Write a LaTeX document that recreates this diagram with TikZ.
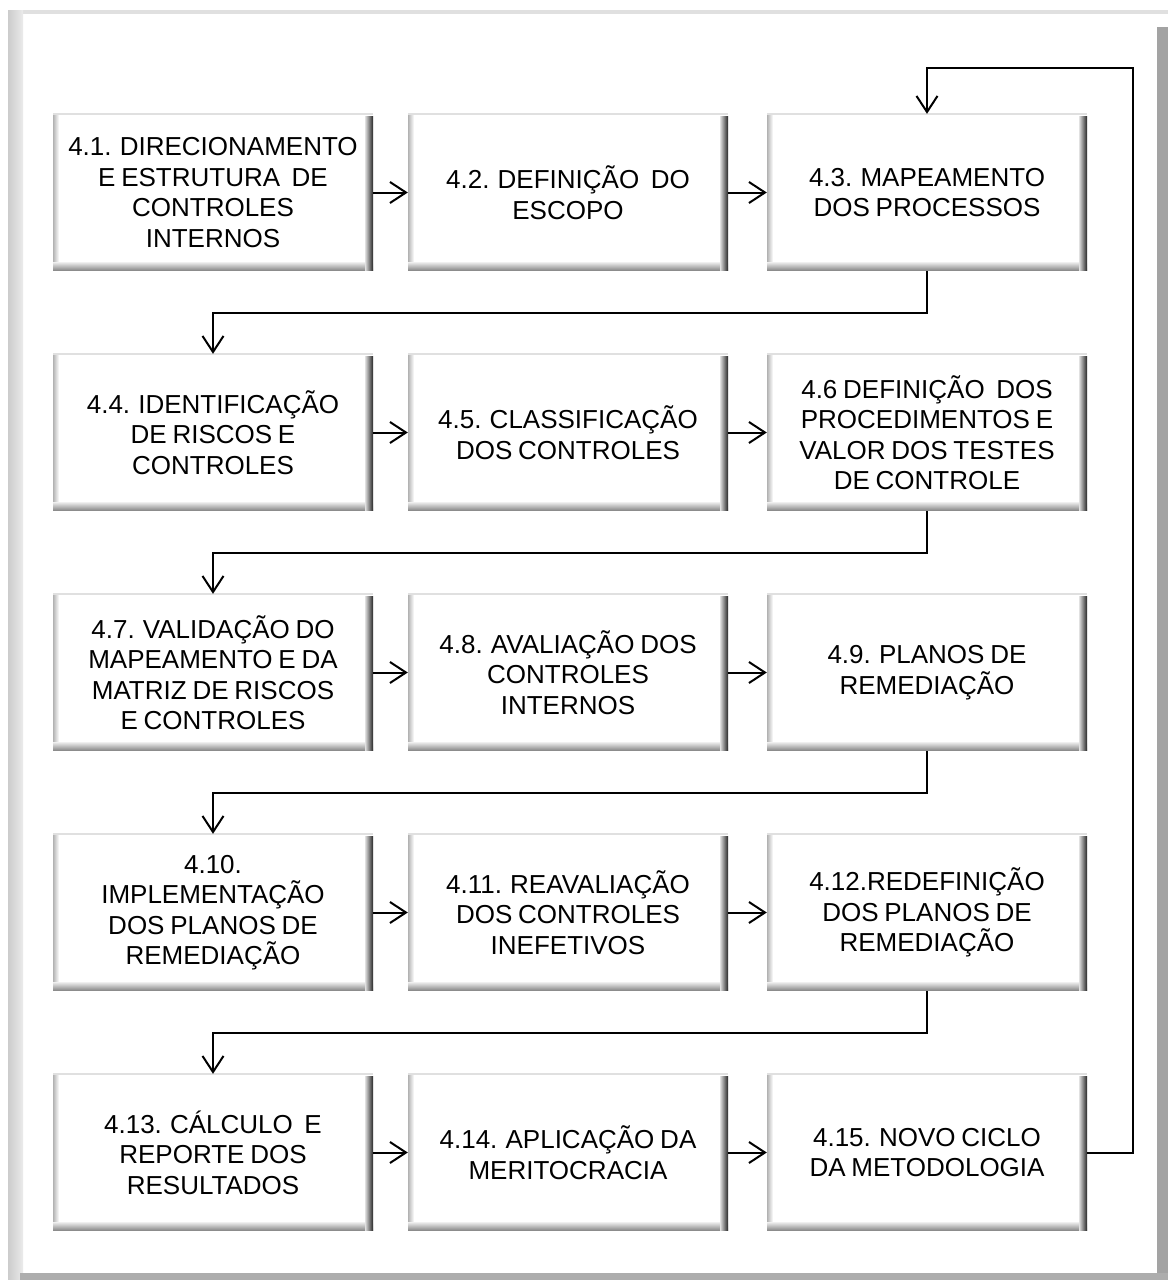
\documentclass[tikz,border=0pt]{standalone}
\usepackage{fontspec}
\setmainfont{Liberation Sans}[WordSpace=0.8]
\usetikzlibrary{arrows.meta}
\tikzset{
  boxtext/.style={rectangle, minimum width=320pt, minimum height=157pt, inner sep=0pt,
    align=center, font=\fontsize{26}{30.5}\selectfont},
  arr/.style={line width=2pt, -{Straight Barb[length=16pt,width=21pt,line width=2pt]}},
}
\newcommand\bevbox[4]{%
  \fill[white] (#2,#3) rectangle (#2+320,#3+157);
  \shade[left color=black!30,right color=white] (#2,#3) rectangle (#2+6,#3+157);
  \fill[black!12] (#2,#3) rectangle (#2+320,#3+2);
  \shade[top color=black!6,bottom color=black!45] (#2,#3+149) rectangle (#2+320,#3+157);
  \shade[left color=black!12,right color=black!85] (#2+312,#3+3) rectangle (#2+320,#3+157);
  \node[boxtext] (#1) at (#2+160,#3+79.5) {#4};
}
\begin{document}
\begin{tikzpicture}[x=1pt,y=-1pt]
\useasboundingbox (0,0) rectangle (1168,1280);
\fill[white] (0,0) rectangle (1168,1280);
% outer frame
\fill[black!12] (8,10) rectangle (1168,14);
\shade[left color=black!20,right color=black!8] (8,10) rectangle (23,1280);
\fill[black!36] (1157,27) rectangle (1168,1280);
\fill[black!32] (20,1273) rectangle (1168,1280);
% boxes
\bevbox{b1}{53}{113}{4.1. DIRECIONAMENTO\\E ESTRUTURA\ \ DE\\CONTROLES\\INTERNOS}
\bevbox{b2}{408}{113}{4.2. DEFINIÇÃO\ \ DO\\ESCOPO}
\bevbox{b3}{767}{113}{4.3. MAPEAMENTO\\DOS PROCESSOS}
\bevbox{b4}{53}{353}{4.4. IDENTIFICAÇÃO\\DE RISCOS E\\CONTROLES}
\bevbox{b5}{408}{353}{4.5. CLASSIFICAÇÃO\\DOS CONTROLES}
\bevbox{b6}{767}{353}{4.6 DEFINIÇÃO\ \ DOS\\PROCEDIMENTOS E\\VALOR DOS TESTES\\DE CONTROLE}
\bevbox{b7}{53}{593}{4.7. VALIDAÇÃO DO\\MAPEAMENTO E DA\\MATRIZ DE RISCOS\\E CONTROLES}
\bevbox{b8}{408}{593}{4.8. AVALIAÇÃO DOS\\CONTROLES\\INTERNOS}
\bevbox{b9}{767}{593}{4.9. PLANOS DE\\REMEDIAÇÃO}
\bevbox{b10}{53}{833}{4.10.\\IMPLEMENTAÇÃO\\DOS PLANOS DE\\REMEDIAÇÃO}
\bevbox{b11}{408}{833}{4.11. REAVALIAÇÃO\\DOS CONTROLES\\INEFETIVOS}
\bevbox{b12}{767}{833}{4.12.REDEFINIÇÃO\\DOS PLANOS DE\\REMEDIAÇÃO}
\bevbox{b13}{53}{1073}{4.13. CÁLCULO\ \ E\\REPORTE DOS\\RESULTADOS}
\bevbox{b14}{408}{1073}{4.14. APLICAÇÃO DA\\MERITOCRACIA}
\bevbox{b15}{767}{1073}{4.15. NOVO CICLO\\DA METODOLOGIA}
% horizontal arrows
\foreach \a/\b in {b1/b2,b2/b3,b4/b5,b5/b6,b7/b8,b8/b9,b10/b11,b11/b12,b13/b14,b14/b15}
  \draw[arr] (\a.east) -- (\b.west);
% row connectors
\draw[arr] (b3.south) -- ++(0,41.5) -| (b4.north);
\draw[arr] (b6.south) -- ++(0,41.5) -| (b7.north);
\draw[arr] (b9.south) -- ++(0,41.5) -| (b10.north);
\draw[arr] (b12.south) -- ++(0,41.5) -| (b13.north);
% feedback
\coordinate (fb) at (1133,68);
\draw[arr] (b15.east) -| (fb) -| (b3.north);
\end{tikzpicture}
\end{document}
